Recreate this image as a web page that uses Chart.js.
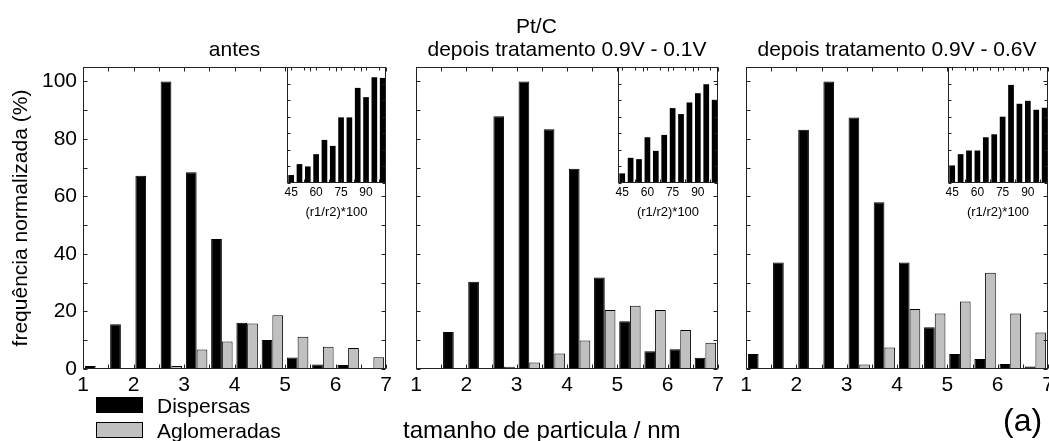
<!DOCTYPE html>
<html>
<head>
<meta charset="utf-8">
<script src="https://cdn.jsdelivr.net/npm/chart.js@4.4.1/dist/chart.umd.min.js"></script>
<style>
  html, body { margin: 0; padding: 0; background: #fff; overflow: hidden; }
  #wrap { position: relative; width: 1049px; height: 441px; overflow: hidden;
          font-family: "Liberation Sans", Arial, sans-serif; color: #000; }
  #wrap canvas { position: absolute; top: 0; }
  .txt { position: absolute; white-space: nowrap; }
  .box { position: absolute; width: 45px; height: 14px; border: 1px solid #000; }
</style>
</head>
<body>
<div id="wrap">
  <canvas id="p1" width="400" height="441" style="left:0px"></canvas>
  <canvas id="p2" width="340" height="441" style="left:390px"></canvas>
  <canvas id="p3" width="345" height="441" style="left:720px"></canvas>
  <canvas id="i1" width="121" height="164" style="left:275px;top:59px"></canvas>
  <canvas id="i2" width="122" height="164" style="left:606px;top:59px"></canvas>
  <canvas id="i3" width="122" height="164" style="left:936px;top:59px"></canvas>

  <div class="txt" style="left:516px;top:15px;font-size:21px;line-height:21px">Pt/C</div>
  <div class="txt" style="left:403px;top:418px;font-size:24px;line-height:24px">tamanho de particula / nm</div>
  <div class="txt" style="left:1003px;top:404px;font-size:32px;line-height:32px">(a)</div>

  <div class="box" style="left:96px;top:397px;background:#000"></div>
  <div class="txt" style="left:157px;top:395px;font-size:21px;line-height:21px">Dispersas</div>
  <div class="box" style="left:96px;top:422px;background:#c0c0c0"></div>
  <div class="txt" style="left:157px;top:420px;font-size:21px;line-height:21px">Aglomeradas</div>
</div>

<script>
// particle size bins (nm), bin centres
const binCenters = [1.25, 1.75, 2.25, 2.75, 3.25, 3.75, 4.25, 4.75, 5.25, 5.75, 6.25, 6.75];
const xTickValues = [1, 2, 3, 4, 5, 6, 7];
const yTickValues = [0, 20, 40, 60, 80, 100];

// antes
const antesDispersas = [1.0, 15.6, 67.2, 100, 68.4, 45.2, 16.1, 10.1, 4.0, 1.6, 1.4, 0];
const antesAglomeradas = [0, 0, 0, 1.0, 6.8, 9.6, 15.8, 18.7, 11.2, 7.7, 7.3, 4.1];
// depois tratamento 0.9V - 0.1V
const trat01Dispersas = [0, 12.9, 30.3, 87.9, 100, 83.4, 69.6, 31.8, 16.6, 6.2, 6.9, 3.9];
const trat01Aglomeradas = [0, 0, 0, 0.8, 2.3, 5.4, 9.9, 20.5, 22.0, 20.5, 13.6, 9.1];
// depois tratamento 0.9V - 0.6V
const trat06Dispersas = [5.2, 37.0, 83.2, 100, 87.4, 58.0, 37.0, 14.5, 5.2, 3.5, 1.7, 0.9];
const trat06Aglomeradas = [0, 0, 0, 0, 1.6, 7.5, 20.9, 19.3, 23.5, 33.5, 19.3, 12.7];

// insets: (r1/r2)*100
const ratioBins = [45, 50, 55, 60, 65, 70, 75, 80, 85, 90, 95, 100];
const ratioTickValues = [45, 60, 75, 90];
const antesRatio = [2.4, 5.7, 5.0, 8.7, 13.0, 11.2, 19.8, 19.8, 28.7, 25.9, 31.9, 31.7];
const trat01Ratio = [2.9, 7.6, 7.2, 13.8, 9.7, 14.5, 22.6, 20.8, 24.3, 27.1, 29.8, 25.1];
const trat06Ratio = [5.3, 8.7, 9.8, 9.8, 13.8, 14.7, 20.0, 29.6, 23.9, 24.8, 22.1, 22.7];

Chart.defaults.font.family = '"Liberation Sans", Arial, sans-serif';
Chart.defaults.color = "#000";

// box around the plot with small inward tick marks on all four sides
const framePlugin = {
  id: "frame",
  afterDatasetsDraw(chart, args, opts) {
    const { ctx, chartArea: a, scales: { x, y } } = chart;
    const left = Math.round(a.left) + 0.5;
    const right = Math.round(a.right) - 0.5;
    const top = Math.round(a.top) + 0.5;
    const bottom = Math.round(a.bottom) - 0.5;
    ctx.save();
    ctx.strokeStyle = "#222";
    ctx.lineWidth = 1;
    ctx.beginPath();
    for (let v = opts.xStart; v <= x.max + 1e-9; v += opts.xStep) {
      const px = Math.round(x.getPixelForValue(v)) + 0.5;
      ctx.moveTo(px, top); ctx.lineTo(px, top + opts.len);
      ctx.moveTo(px, bottom); ctx.lineTo(px, bottom - opts.len);
    }
    for (let v = y.min; v <= y.max + 1e-9; v += opts.yStep) {
      const py = Math.round(y.getPixelForValue(v)) + 0.5;
      ctx.moveTo(left, py); ctx.lineTo(left + opts.len, py);
      ctx.moveTo(right, py); ctx.lineTo(right - opts.len, py);
    }
    ctx.stroke();
    ctx.strokeRect(left, top, right - left, bottom - top);
    ctx.restore();
  },
};

function toPoints(xs, ys) {
  return xs.map((x, i) => ({ x: x, y: ys[i] }));
}

function makePanel(id, title, dispersas, aglomeradas, yWidth, padRight, showY) {
  return new Chart(document.getElementById(id), {
    type: "bar",
    data: {
      datasets: [
        {
          label: "Dispersas",
          data: toPoints(binCenters, dispersas),
          backgroundColor: "#000",
          borderColor: "#000",
          borderWidth: 1,
          categoryPercentage: 0.85,
          barPercentage: 1,
        },
        {
          label: "Aglomeradas",
          data: toPoints(binCenters, aglomeradas),
          backgroundColor: "#c0c0c0",
          borderColor: "#000",
          borderWidth: 1,
          categoryPercentage: 0.85,
          barPercentage: 1,
        },
      ],
    },
    options: {
      responsive: false,
      animation: false,
      layout: { padding: { left: 0, right: padRight, top: 0, bottom: 0 } },
      plugins: {
        legend: { display: false },
        tooltip: { enabled: false },
        title: {
          display: true,
          text: title,
          fullSize: false,
          font: { size: 21, weight: "normal" },
          padding: { top: 38, bottom: 3.8 },
        },
        frame: { xStart: 1, xStep: 0.5, yStep: 10, len: 4 },
      },
      scales: {
        x: {
          type: "linear",
          min: 1,
          max: 7,
          offset: false,
          grid: { display: false, drawTicks: false, offset: false },
          border: { display: false },
          afterBuildTicks: (s) => { s.ticks = xTickValues.map((v) => ({ value: v })); },
          afterFit: (s) => { s.height = 72; },
          ticks: { font: { size: 21 }, padding: 4, maxRotation: 0 },
        },
        y: {
          min: 0,
          max: 105,
          grid: { display: false, drawTicks: false },
          border: { display: false },
          afterBuildTicks: (s) => { s.ticks = yTickValues.map((v) => ({ value: v })); },
          afterFit: (s) => { s.width = yWidth; },
          ticks: { display: showY, font: { size: 21 }, padding: 6 },
          title: {
            display: showY,
            text: "frequência normalizada (%)",
            font: { size: 21 },
            padding: { top: 9, bottom: 0 },
          },
        },
      },
    },
    plugins: [framePlugin],
  });
}

function makeInset(id, values, plotWidth) {
  return new Chart(document.getElementById(id), {
    type: "bar",
    data: {
      datasets: [
        {
          label: "(r1/r2)*100",
          data: toPoints(ratioBins, values),
          backgroundColor: "#000",
          borderColor: "#000",
          borderWidth: 0,
          categoryPercentage: 1,
          barPercentage: 0.68,
        },
      ],
    },
    options: {
      responsive: false,
      animation: false,
      layout: { padding: { left: 0, right: 10, top: 8, bottom: 0 } },
      plugins: {
        legend: { display: false },
        tooltip: { enabled: false },
        frame: { xStart: 45, xStep: 7.5, yStep: 5, len: 3 },
      },
      scales: {
        x: {
          type: "linear",
          min: 42.5,
          max: 102,
          offset: false,
          grid: { display: false, drawTicks: false, offset: false },
          border: { display: false },
          afterBuildTicks: (s) => { s.ticks = ratioTickValues.map((v) => ({ value: v })); },
          afterFit: (s) => { s.height = 40; },
          ticks: { font: { size: 12 }, padding: 2, maxRotation: 0 },
          title: {
            display: true,
            text: "(r1/r2)*100",
            font: { size: 13 },
            padding: { top: 0, bottom: 3 },
          },
        },
        y: {
          min: 0,
          max: 35,
          grid: { display: false, drawTicks: false },
          border: { display: false },
          afterFit: (s) => { s.width = 12; },
          ticks: { display: false },
        },
      },
    },
    plugins: [framePlugin],
  });
}

makePanel("p1", "antes", antesDispersas, antesAglomeradas, 83, 14, true);
makePanel("p2", "depois tratamento 0.9V - 0.1V", trat01Dispersas, trat01Aglomeradas, 26, 12, false);
makePanel("p3", "depois tratamento 0.9V - 0.6V", trat06Dispersas, trat06Aglomeradas, 26, 17, false);
makeInset("i1", antesRatio, 99);
makeInset("i2", trat01Ratio, 100);
makeInset("i3", trat06Ratio, 100);
</script>
</body>
</html>
